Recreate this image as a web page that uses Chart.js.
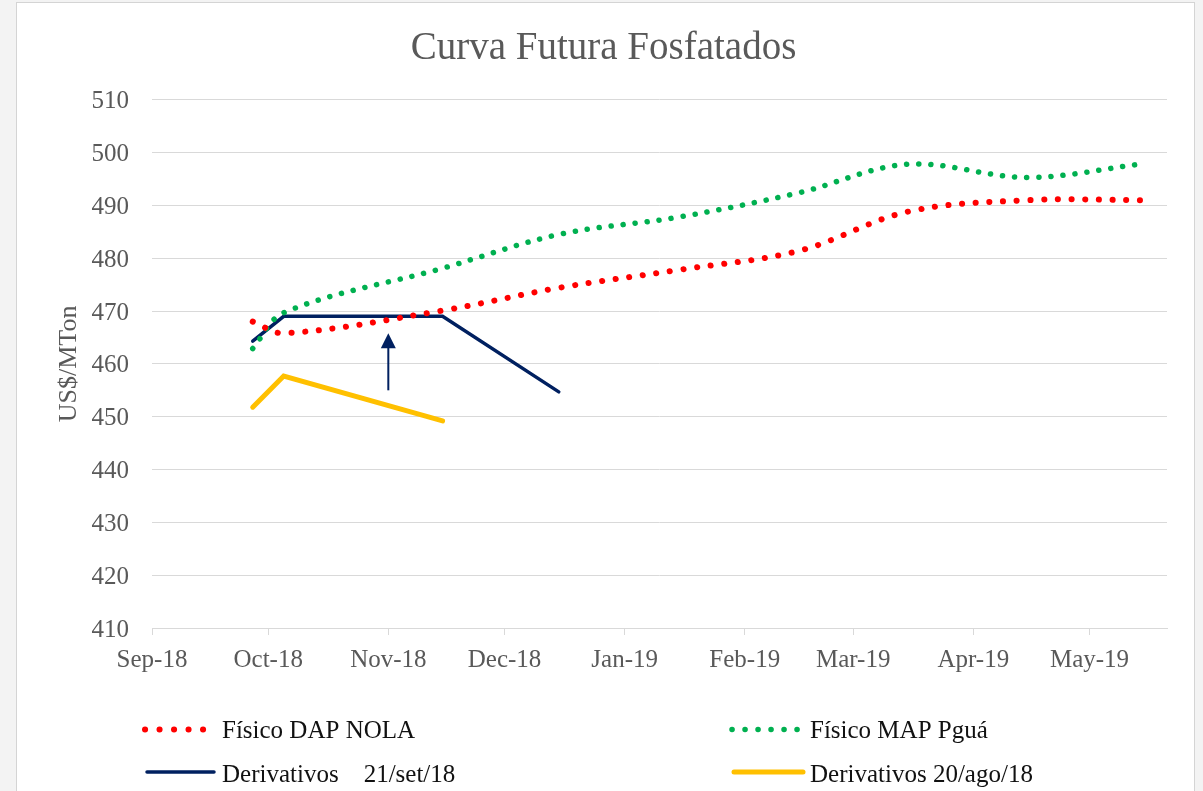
<!DOCTYPE html>
<html>
<head>
<meta charset="utf-8">
<script src="https://cdn.jsdelivr.net/npm/chart.js@4.4.1/dist/chart.umd.min.js"></script>
<style>
  html, body { margin: 0; padding: 0; background: #f3f3f3; }
  canvas { display: block; }
</style>
</head>
<body>
<canvas id="c" width="1203" height="791"></canvas>
<script>
// ---- data ----
const pointDates = ['2018-09-27', '2018-10-05', '2018-11-15', '2018-12-15', '2019-01-15', '2019-02-15', '2019-03-15', '2019-04-15', '2019-05-15'];
const dapNola   = [468.0, 465.8, 470.1, 474.4, 477.8, 481.4, 488.8, 491.0, 491.0];
const mapPgua   = [462.9, 469.7, 478.1, 484.5, 487.8, 492.4, 497.8, 495.3, 497.9];
const deriv21set = [464.3, 469.0, 469.0, 454.7];
const deriv20ago = [451.8, 457.7, 449.2];

const monthTickDates = ['2018-09-01', '2018-10-01', '2018-11-01', '2018-12-01', '2019-01-01', '2019-02-01', '2019-03-01', '2019-04-01', '2019-05-01'];
const monthTickLabels = ['Sep-18', 'Oct-18', 'Nov-18', 'Dec-18', 'Jan-19', 'Feb-19', 'Mar-19', 'Apr-19', 'May-19'];
const axisStartDate = '2018-09-01';
const axisEndDate = '2019-05-21';
const yTicks = { min: 410, max: 510, step: 10 };

const arrowDate = '2018-11-01';
const arrowFrom = 455.0;
const arrowTo = 465.8;

const seriesNames = ['Físico DAP NOLA', 'Físico MAP Pguá', 'Derivativos    21/set/18', 'Derivativos 20/ago/18'];

// ---- helpers ----
function dayOf(s) {
  const [y, m, d] = s.split('-').map(Number);
  const [y0, m0, d0] = axisStartDate.split('-').map(Number);
  return (Date.UTC(y, m - 1, d) - Date.UTC(y0, m0 - 1, d0)) / 86400000;
}
function pts(values) {
  return values.map((v, i) => ({ x: dayOf(pointDates[i]), y: v }));
}

const FONT = 'Liberation Serif';
const GRID = '#d9d9d9';
const TXT = '#595959';

const frame = {
  id: 'frame',
  beforeDraw(chart) {
    const ctx = chart.ctx;
    ctx.save();
    ctx.fillStyle = '#f3f3f3';
    ctx.fillRect(0, 0, chart.width, chart.height);
    ctx.fillStyle = '#ffffff';
    ctx.fillRect(17, 3, 1178, chart.height);
    ctx.strokeStyle = '#d4d4d4';
    ctx.lineWidth = 1;
    ctx.strokeRect(16.5, 2.5, 1178, chart.height + 5);
    ctx.restore();
  }
};

const arrow = {
  id: 'arrow',
  afterDatasetsDraw(chart) {
    const { ctx, scales: { x, y } } = chart;
    const px = x.getPixelForValue(dayOf(arrowDate));
    const y0 = y.getPixelForValue(arrowFrom);
    const y1 = y.getPixelForValue(arrowTo);
    ctx.save();
    ctx.strokeStyle = '#002060';
    ctx.fillStyle = '#002060';
    ctx.lineWidth = 2;
    ctx.beginPath();
    ctx.moveTo(px, y0);
    ctx.lineTo(px, y1 + 12);
    ctx.stroke();
    ctx.beginPath();
    ctx.moveTo(px, y1);
    ctx.lineTo(px - 7.5, y1 + 15);
    ctx.lineTo(px + 7.5, y1 + 15);
    ctx.closePath();
    ctx.fill();
    ctx.restore();
  }
};

const legendItems = [
  { ds: 0, x0: 145, x1: 204, gap: 14.5, textX: 222, base: 737.5, lineY: 729.5 },
  { ds: 1, x0: 732, x1: 798, gap: 13, textX: 810, base: 737.5, lineY: 729.5 },
  { ds: 2, x0: 147, x1: 214, textX: 222, base: 781.5, lineY: 772 },
  { ds: 3, x0: 734, x1: 803, textX: 810, base: 781.5, lineY: 772 }
];

const customLegend = {
  id: 'customLegend',
  afterDraw(chart) {
    const ctx = chart.ctx;
    ctx.save();
    legendItems.forEach(it => {
      const ds = chart.data.datasets[it.ds];
      ctx.strokeStyle = ds.borderColor;
      ctx.lineWidth = ds.borderWidth;
      ctx.lineCap = 'round';
      ctx.setLineDash(it.gap ? [0.1, it.gap - 0.1] : []);
      ctx.beginPath();
      ctx.moveTo(it.x0, it.lineY);
      ctx.lineTo(it.x1, it.lineY);
      ctx.stroke();
      ctx.setLineDash([]);
      ctx.fillStyle = '#111111';
      ctx.font = '25px "' + FONT + '"';
      ctx.textBaseline = 'alphabetic';
      ctx.textAlign = 'left';
      ctx.fillText(ds.label, it.textX, it.base);
    });
    ctx.restore();
  }
};

new Chart(document.getElementById('c'), {
  type: 'line',
  data: {
    datasets: [
      {
        label: seriesNames[0], data: pts(dapNola),
        borderColor: '#ff0000', borderWidth: 6, borderDash: [0.1, 13.6],
        borderCapStyle: 'round', pointRadius: 0, tension: 0.35, fill: false
      },
      {
        label: seriesNames[1], data: pts(mapPgua),
        borderColor: '#00b050', borderWidth: 5.5, borderDash: [0.1, 12],
        borderCapStyle: 'round', pointRadius: 0, tension: 0.35, fill: false
      },
      {
        label: seriesNames[2], data: pts(deriv21set),
        borderColor: '#002060', borderWidth: 3.5, borderCapStyle: 'round',
        pointRadius: 0, tension: 0, fill: false
      },
      {
        label: seriesNames[3], data: pts(deriv20ago),
        borderColor: '#ffc000', borderWidth: 5, borderCapStyle: 'round',
        pointRadius: 0, tension: 0, fill: false
      }
    ]
  },
  options: {
    responsive: false,
    devicePixelRatio: 1,
    animation: false,
    layout: { padding: { left: 40, right: 36, top: 0, bottom: 113 } },
    plugins: {
      legend: { display: false },
      tooltip: { enabled: false },
      title: {
        display: true,
        text: 'Curva Futura Fosfatados',
        color: TXT,
        font: { family: FONT, size: 39, weight: 'normal' },
        padding: { top: 25, bottom: 28 }
      }
    },
    scales: {
      x: {
        type: 'linear',
        min: dayOf(axisStartDate),
        max: dayOf(axisEndDate),
        afterBuildTicks(scale) {
          scale.ticks = monthTickDates.map(d => ({ value: dayOf(d) }));
        },
        afterFit(scale) { scale.height = 50; },
        ticks: {
          autoSkip: false, maxRotation: 0, padding: 10,
          color: TXT, font: { family: FONT, size: 25 },
          callback: (v, i) => monthTickLabels[i]
        },
        grid: { drawOnChartArea: false, drawTicks: true, tickLength: 7, color: GRID, lineWidth: 1 },
        border: { display: true, color: GRID, width: 1 }
      },
      y: {
        min: yTicks.min, max: yTicks.max,
        afterFit(scale) { scale.width = 112; },
        ticks: { stepSize: yTicks.step, padding: 23, labelOffset: 2, color: TXT, font: { family: FONT, size: 25 } },
        grid: { color: GRID, lineWidth: 1, drawTicks: false },
        border: { display: false },
        title: {
          display: true, text: 'US$/MTon', color: TXT,
          font: { family: FONT, size: 26, weight: 'normal' },
          padding: { top: 14, bottom: 0 }
        }
      }
    }
  },
  plugins: [frame, arrow, customLegend]
});
</script>
</body>
</html>
